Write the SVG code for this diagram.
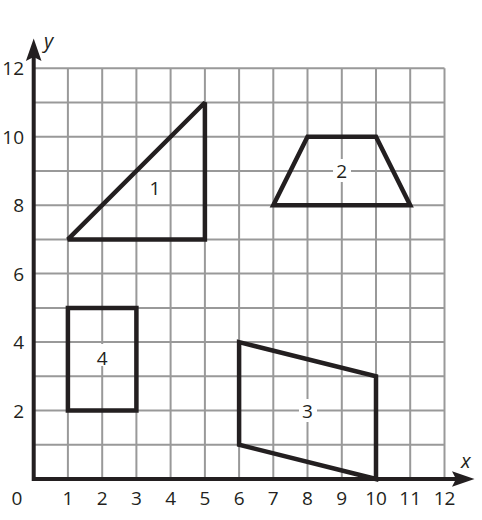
<svg xmlns="http://www.w3.org/2000/svg" width="482" height="520" viewBox="0 0 482 520">
<style>
.grid{stroke:#999999;stroke-width:2;fill:none}
.axis{stroke:#231f20;stroke-width:4;fill:none}
.shape{stroke:#231f20;stroke-width:4.5;fill:none;stroke-linejoin:miter;stroke-miterlimit:2}
.num{font-family:"Open Sans","Liberation Sans",sans-serif;font-size:19px;fill:#231f20}
.lbl{font-family:"Open Sans","Liberation Sans",sans-serif;font-size:20px;fill:#231f20;font-style:italic}
.bg{fill:#ffffff}
</style>
<rect width="482" height="520" fill="#ffffff"/>
<g id="grid" class="grid">
<path d="M67.9 68.2V479M102.2 68.2V479M136.4 68.2V479M170.6 68.2V479M204.9 68.2V479M239.1 68.2V479M273.3 68.2V479M307.5 68.2V479M341.8 68.2V479M376 68.2V479M410.2 68.2V479M444.5 68.2V479"/>
<path d="M33.7 444.8H444.5M33.7 410.5H444.5M33.7 376.3H444.5M33.7 342.1H444.5M33.7 307.9H444.5M33.7 273.6H444.5M33.7 239.4H444.5M33.7 205.2H444.5M33.7 170.9H444.5M33.7 136.7H444.5M33.7 102.5H444.5M33.7 68.2H444.5"/>
</g>
<g id="axes">
<path class="axis" d="M33.7 481V56M31.7 479H458"/>
<polygon fill="#231f20" points="33.7,38.5 41.5,61 33.7,57 25.9,61"/>
<polygon fill="#231f20" points="474.5,479 452,471.2 456,479 452,486.8"/>
<text class="lbl" x="44" y="48">y</text>
<text class="lbl" x="461" y="468">x</text>
</g>
<g id="ticklabels" class="num">
<text x="17" y="505" text-anchor="middle">0</text>
<text x="67.9" y="505" text-anchor="middle">1</text>
<text x="102.2" y="505" text-anchor="middle">2</text>
<text x="136.4" y="505" text-anchor="middle">3</text>
<text x="170.6" y="505" text-anchor="middle">4</text>
<text x="204.9" y="505" text-anchor="middle">5</text>
<text x="239.1" y="505" text-anchor="middle">6</text>
<text x="273.3" y="505" text-anchor="middle">7</text>
<text x="307.5" y="505" text-anchor="middle">8</text>
<text x="341.8" y="505" text-anchor="middle">9</text>
<text x="376" y="505" text-anchor="middle">10</text>
<text x="410.2" y="505" text-anchor="middle">11</text>
<text x="444.5" y="505" text-anchor="middle">12</text>
<text x="24" y="417.5" text-anchor="end">2</text>
<text x="24" y="349" text-anchor="end">4</text>
<text x="24" y="280.6" text-anchor="end">6</text>
<text x="24" y="212.2" text-anchor="end">8</text>
<text x="24" y="143.7" text-anchor="end">10</text>
<text x="24" y="75.2" text-anchor="end">12</text>
</g>
<g id="shape1">
<polygon class="shape" points="67.9,239.4 204.9,102.5 204.9,239.4"/>
<text class="num" x="155" y="195" text-anchor="middle">1</text>
</g>
<g id="shape2">
<polygon class="shape" points="273.3,205.2 307.5,136.7 376,136.7 410.2,205.2"/>
<rect class="bg" x="333" y="159" width="18" height="23"/>
<text class="num" x="341.8" y="177.5" text-anchor="middle">2</text>
</g>
<g id="shape3">
<polygon class="shape" points="239.1,342.1 376,376.3 376,479 239.1,444.8"/>
<rect class="bg" x="299" y="399" width="18" height="23"/>
<text class="num" x="307.5" y="417.5" text-anchor="middle">3</text>
</g>
<g id="shape4">
<polygon class="shape" points="67.9,307.9 136.4,307.9 136.4,410.5 67.9,410.5"/>
<rect class="bg" x="93" y="344" width="18" height="22"/>
<text class="num" x="102.2" y="365" text-anchor="middle">4</text>
</g>
</svg>
